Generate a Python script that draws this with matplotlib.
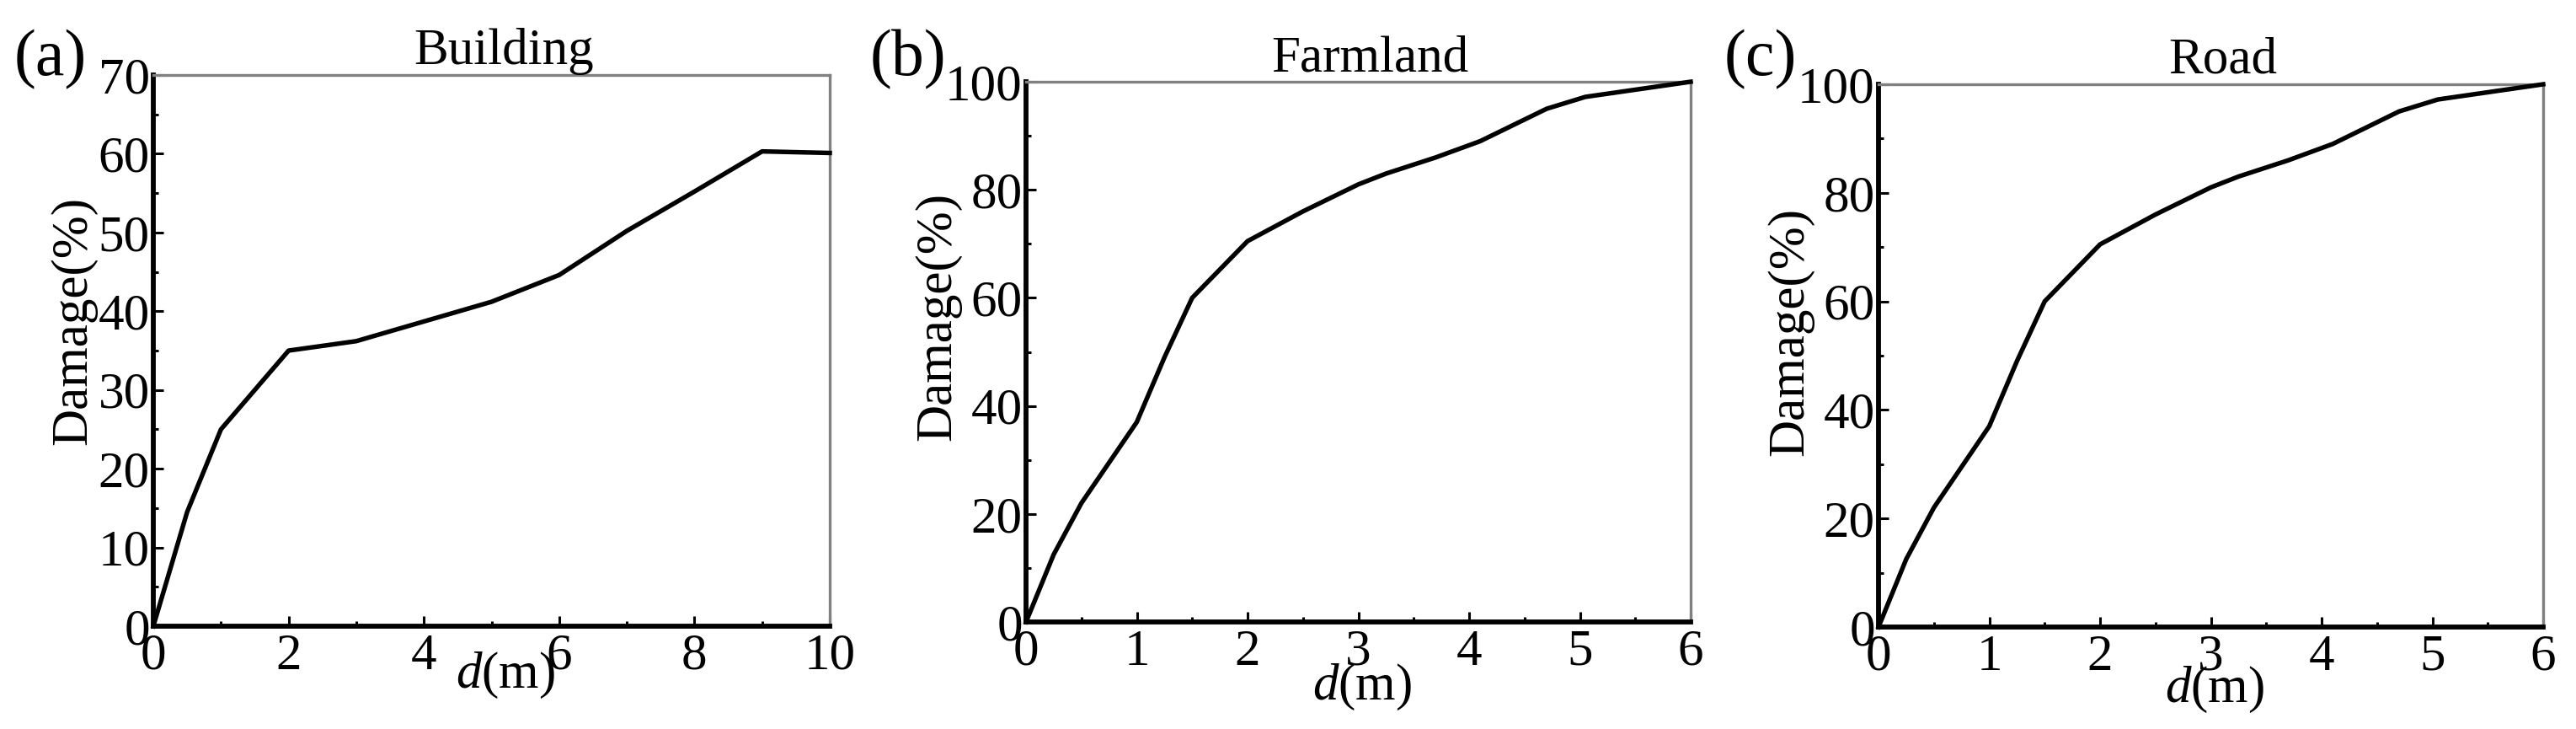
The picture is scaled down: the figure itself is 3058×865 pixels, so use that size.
import matplotlib
matplotlib.use('Agg')
import matplotlib.pyplot as plt
from matplotlib.ticker import MultipleLocator

plt.rcParams['font.family'] = ['Liberation Serif', 'DejaVu Serif']
plt.rcParams['mathtext.fontset'] = 'custom'
plt.rcParams['mathtext.it'] = 'Liberation Serif:italic'
plt.rcParams['mathtext.rm'] = 'Liberation Serif'

# ---- data ----
building_depth = [0, 0.5, 1, 2, 3, 4, 5, 6, 7, 8, 9, 10]
building_damage = [0, 14.5, 25, 35, 36.2, 38.7, 41.2, 44.6, 50.2, 55.2, 60.3, 60.1]

farmland_depth = [0, 0.25, 0.5, 1.0, 1.25, 1.5, 2.0, 2.5, 3.0, 3.25, 3.7, 4.1, 4.7, 5.05, 6.0]
farmland_damage = [0, 12.5, 22, 37, 49, 60, 70.5, 76, 81, 83, 86, 89, 95, 97.2, 100]

road_depth = [0, 0.25, 0.5, 1.0, 1.25, 1.5, 2.0, 2.5, 3.0, 3.25, 3.7, 4.1, 4.7, 5.05, 6.0]
road_damage = [0, 12.5, 22, 37, 49, 60, 70.5, 76, 81, 83, 86, 89, 95, 97.2, 100]

titles = ['Building', 'Farmland', 'Road']
panel_letters = ['(a)', '(b)', '(c)']
x_limits = [(0, 10), (0, 6), (0, 6)]
y_limits = [(0, 70), (0, 100), (0, 100)]
x_major = [2, 1, 1]
x_minor = [1, 0.5, 0.5]
y_major = [10, 20, 20]
y_minor = [5, 10, 10]

W, H = 3058, 865
fig = plt.figure(figsize=(W / 100, H / 100), dpi=100)

# axes pixel boxes: left, right, top, bottom
boxes = [(182, 985, 89, 743), (1218, 2007, 97, 738), (2230, 3019, 100, 744)]
letter_x = [17, 1033, 2047]
ylabel_pos = [(-0.118, 0.555), (-0.132, 0.565), (-0.132, 0.545)]
xlabel_pos = [(0.52, -0.09), (0.506, -0.12), (0.506, -0.115)]

series = [(building_depth, building_damage), (farmland_depth, farmland_damage), (road_depth, road_damage)]

for i, (l, r, t, b) in enumerate(boxes):
    ax = fig.add_axes([l / W, (H - b) / H, (r - l) / W, (b - t) / H])
    xs, ys = series[i]
    ax.plot(xs, ys, color='black', lw=3.9, clip_on=False, zorder=5)
    ax.set_xlim(*x_limits[i])
    ax.set_ylim(*y_limits[i])
    ax.xaxis.set_major_locator(MultipleLocator(x_major[i]))
    ax.xaxis.set_minor_locator(MultipleLocator(x_minor[i]))
    ax.yaxis.set_major_locator(MultipleLocator(y_major[i]))
    ax.yaxis.set_minor_locator(MultipleLocator(y_minor[i]))
    ax.tick_params(which='both', direction='in', top=False, right=False, labelsize=44, color='black')
    ax.tick_params(which='major', length=8.5, width=2.2)
    ax.tick_params(which='minor', length=4, width=2.2)
    ax.tick_params(axis='x', which='major', pad=6)
    ax.tick_params(axis='y', which='major', pad=3)
    for side in ['left', 'bottom']:
        ax.spines[side].set_linewidth(4.2)
        ax.spines[side].set_color('black')
    for side in ['top', 'right']:
        ax.spines[side].set_linewidth(2.4)
        ax.spines[side].set_color('#808080')
    ax.set_title(titles[i], fontsize=44, pad=6, x=0.518)
    ax.set_ylabel('Damage(%)', fontsize=44, va='center')
    ax.yaxis.set_label_coords(*ylabel_pos[i])
    ax.set_xlabel(r'$d$(m)', fontsize=44, va='center')
    ax.xaxis.set_label_coords(*xlabel_pos[i])
    fig.text(letter_x[i] / W, (H - 71) / H, panel_letters[i], fontsize=56, ha='left', va='center')

fig.savefig('out.png', dpi=100, facecolor='white')
